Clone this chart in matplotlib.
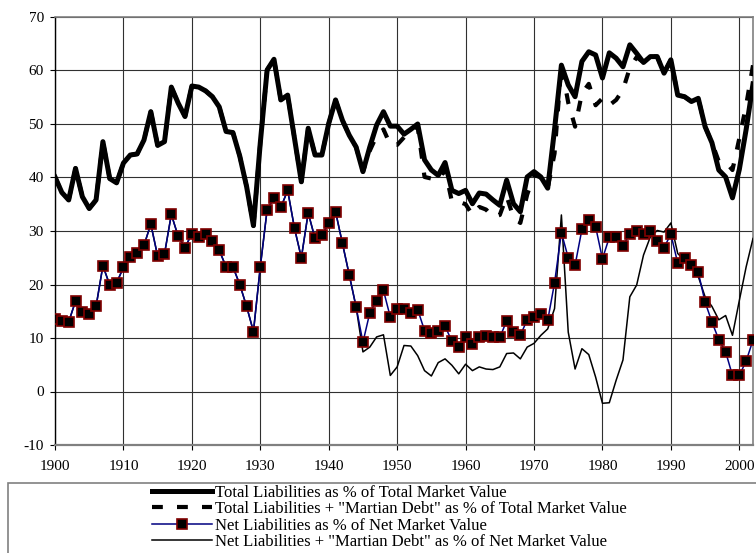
import matplotlib
matplotlib.use("Agg")
import matplotlib.pyplot as plt
from matplotlib.patches import Rectangle

plt.rcParams["font.family"] = ["Liberation Serif", "DejaVu Serif"]
plt.rcParams["axes.unicode_minus"] = False

# categories: one point per year
years = list(range(1900, 2003))

# Total Liabilities as % of Total Market Value
total = [
    40.1, 37.2, 35.8, 41.7, 36.4, 34.2, 35.8, 46.7, 39.8, 39.0,
    42.7, 44.2, 44.4, 47.0, 52.3, 46.0, 46.7, 56.9, 53.9, 51.4,
    57.1, 56.9, 56.2, 55.1, 53.2, 48.6, 48.4, 44.0, 38.3, 31.0,
    46.5, 60.1, 62.1, 54.5, 55.4, 47.3, 39.2, 49.2, 44.2, 44.2,
    50.1, 54.5, 50.7, 47.9, 45.7, 41.1, 45.7, 49.8, 52.3, 49.6,
    49.6, 48.1, 49.0, 50.0, 43.3, 41.4, 40.4, 42.8, 37.6, 37.0,
    37.6, 35.1, 37.1, 36.9, 35.8, 34.8, 39.5, 35.1, 33.6, 40.1,
    41.1, 40.1, 38.0, 49.0, 61.0, 57.3, 55.1, 61.7, 63.5, 62.9,
    58.6, 63.3, 62.3, 60.7, 64.8, 63.2, 61.5, 62.6, 62.6, 59.5,
    62.0, 55.4, 55.1, 54.2, 54.8, 49.5, 46.5, 41.4, 40.1, 36.2,
    41.5, 49.0, 57.5,
]

# Total Liabilities + "Martian Debt" (same as total before 1945)
total_martian = total[:45] + [
    41.1, 45.0, 47.8, 49.0, 46.1,
    46.1, 47.5, 49.0, 49.5, 40.1, 39.8, 39.5, 41.5, 35.5, 35.5,
    35.0, 33.0, 34.5, 34.0, 32.6, 33.0, 36.5, 32.5, 31.5, 36.8,
    40.5, 40.0, 38.0, 44.5, 61.0, 54.0, 49.5, 55.7, 57.5, 53.5,
    54.8, 53.5, 54.5, 56.4, 60.5, 62.5, 61.5, 62.6, 62.6, 59.5,
    62.0, 55.4, 55.1, 54.2, 54.8, 49.5, 46.5, 43.0, 42.9, 41.4,
    47.3, 53.5, 61.0,
]

# Net Liabilities as % of Net Market Value
net = [
    13.5, 13.2, 13.0, 16.9, 14.9, 14.5, 15.9, 23.5, 19.9, 20.3,
    23.2, 25.2, 25.9, 27.3, 31.3, 25.3, 25.7, 33.1, 29.0, 26.9,
    29.5, 28.8, 29.5, 28.2, 26.4, 23.3, 23.3, 20.0, 15.9, 11.2,
    23.3, 34.0, 36.2, 34.4, 37.6, 30.5, 25.0, 33.4, 28.6, 29.2,
    31.5, 33.6, 27.7, 21.8, 15.8, 9.2, 14.7, 17.0, 18.9, 13.9,
    15.5, 15.5, 14.7, 15.3, 11.4, 10.9, 11.3, 12.2, 9.4, 8.4,
    10.2, 8.9, 10.2, 10.3, 10.2, 10.1, 13.2, 11.1, 10.5, 13.4,
    14.0, 14.5, 13.3, 20.3, 29.7, 25.0, 23.6, 30.3, 32.0, 30.8,
    24.8, 28.8, 28.8, 27.2, 29.5, 30.0, 29.5, 30.0, 28.2, 26.9,
    29.4, 24.0, 25.0, 23.6, 22.3, 16.7, 13.0, 9.7, 7.4, 3.0,
    3.0, 5.7, 9.6,
]

# Net Liabilities + "Martian Debt" (same as net before 1945)
net_martian = net[:45] + [
    7.4, 8.3, 10.2, 10.6, 3.0,
    4.6, 8.6, 8.5, 6.7, 3.9, 2.9, 5.4, 6.1, 4.9, 3.3,
    5.1, 3.9, 4.6, 4.2, 4.1, 4.6, 7.1, 7.2, 6.1, 8.3,
    9.0, 10.5, 11.7, 15.5, 33.0, 11.1, 4.2, 8.0, 6.9, 2.7,
    -2.2, -2.1, 2.1, 5.9, 17.7, 19.9, 25.5, 28.9, 30.1, 29.8,
    31.5, 25.8, 24.5, 23.4, 21.5, 17.7, 15.9, 13.4, 14.2, 10.5,
    17.0, 23.3, 28.6,
]

labels = [
    "Total Liabilities as % of Total Market Value",
    'Total Liabilities + "Martian Debt" as % of Total Market Value',
    "Net Liabilities as % of Net Market Value",
    'Net Liabilities + "Martian Debt" as % of Net Market Value',
]

W, H = 756, 553
fig = plt.figure(figsize=(W / 100, H / 100), dpi=100)
ax = fig.add_axes([55 / W, 1 - 445 / H, (753 - 55) / W, (445 - 17) / H])

l1, = ax.plot(years, total, color="black", lw=3.6, zorder=3,
              solid_joinstyle="round")
l2, = ax.plot(years, total_martian, color="black", lw=3.0, zorder=2.9,
              dashes=(2.6, 3.4), dash_capstyle="butt")
l4, = ax.plot(years, net_martian, color="black", lw=1.1, zorder=3.1)
l3, = ax.plot(years, net, color="#000080", lw=1.1, marker="s", ms=7.5,
              mfc="black", mec="#800000", mew=1.2, zorder=3.2)

ax.set_xlim(1900, 2002)
ax.set_ylim(-10, 70)
ax.set_xticks(range(1900, 2001, 10))
ax.set_yticks(range(-10, 71, 10))
ax.grid(True, color="#303030", lw=0.8)
ax.set_axisbelow(True)

ax.tick_params(axis="both", direction="out", length=3.6, width=0.8,
               labelsize=11, colors="black")
ax.tick_params(axis="x", pad=7)
ax.tick_params(axis="y", pad=4.5)

ax.spines["left"].set_color("black")
ax.spines["left"].set_linewidth(1.0)
for s in ["bottom", "top", "right"]:
    ax.spines[s].set_color("#808080")
ax.spines["bottom"].set_linewidth(1.6)
ax.spines["top"].set_linewidth(1.2)
ax.spines["right"].set_linewidth(1.2)

# legend frame along the bottom
fig.patches.append(Rectangle((8 / W, -0.05), 1.0, 0.05 + 1 - 483 / H,
                             transform=fig.transFigure, fill=False,
                             edgecolor="#808080", lw=1.2))

fig.legend([l1, l2, l3, l4], labels, loc="upper left",
           bbox_to_anchor=(152 / W, 1 - 485 / H), frameon=False,
           fontsize=12, handlelength=3.6, handletextpad=0.2,
           labelspacing=0.02, borderpad=0, borderaxespad=0, numpoints=1)

fig.savefig("out.png", dpi=100)
